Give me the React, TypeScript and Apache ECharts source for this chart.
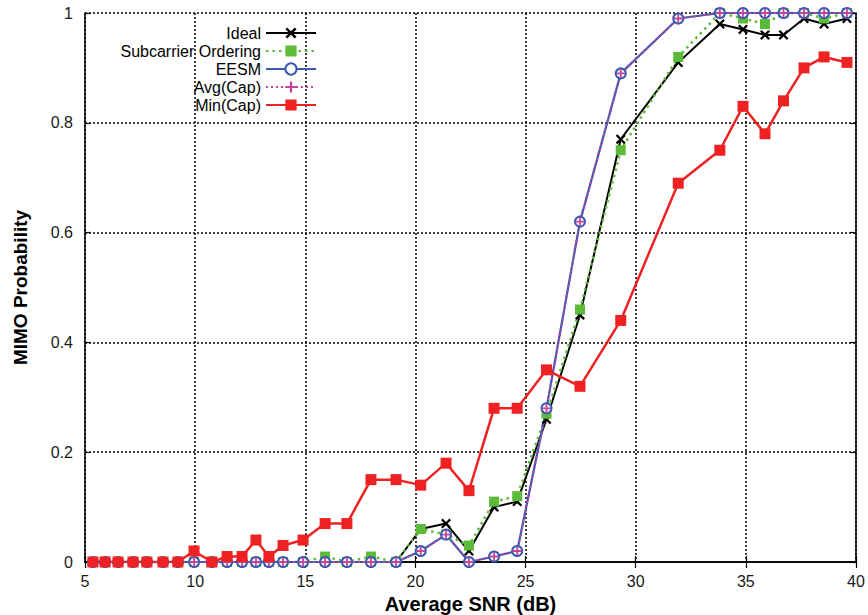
import React, { useEffect, useRef } from "react";
import * as echarts from "echarts";

const snr = [5.36, 5.91, 6.5, 7.18, 7.81, 8.54, 9.22, 9.95, 10.76, 11.45, 12.13, 12.76, 13.35, 13.99, 14.9, 15.9, 16.89, 17.98, 19.12, 20.24, 21.39, 22.43, 23.57, 24.62, 25.95, 27.47, 29.32, 31.93, 33.82, 34.87, 35.87, 36.71, 37.64, 38.55, 39.59];
const ideal = [0, 0, 0, 0, 0, 0, 0, 0, 0, 0, 0, 0, 0, 0, 0, 0, 0, 0, 0, 0.06, 0.07, 0.02, 0.1, 0.11, 0.26, 0.45, 0.77, 0.91, 0.98, 0.97, 0.96, 0.96, 0.99, 0.98, 0.99];
const subcarrier = [0, 0, 0, 0, 0, 0, 0, 0, 0, 0, 0, 0, 0, 0, 0, 0.01, 0, 0.01, 0, 0.06, 0.05, 0.03, 0.11, 0.12, 0.27, 0.46, 0.75, 0.92, 1.0, 0.99, 0.98, 1.0, 1.0, 0.99, 1.0];
const eesm = [0, 0, 0, 0, 0, 0, 0, 0, 0, 0, 0, 0, 0, 0, 0, 0, 0, 0, 0, 0.02, 0.05, 0, 0.01, 0.02, 0.28, 0.62, 0.89, 0.99, 1, 1, 1, 1, 1, 1, 1];
const avgCap = [0, 0, 0, 0, 0, 0, 0, 0, 0, 0, 0, 0, 0, 0, 0, 0, 0, 0, 0, 0.02, 0.05, 0, 0.01, 0.02, 0.28, 0.62, 0.89, 0.99, 1, 1, 1, 1, 1, 1, 1];
const minCap = [0, 0, 0, 0, 0, 0, 0, 0.02, 0, 0.01, 0.01, 0.04, 0.01, 0.03, 0.04, 0.07, 0.07, 0.15, 0.15, 0.14, 0.18, 0.13, 0.28, 0.28, 0.35, 0.32, 0.44, 0.69, 0.75, 0.83, 0.78, 0.84, 0.9, 0.92, 0.91];
const seriesNames = ["Ideal", "Subcarrier Ordering", "EESM", "Avg(Cap)", "Min(Cap)"];

const FONT = "Liberation Sans, Arial, Helvetica, sans-serif";
const CROSS = "path://M0,1.6 L1.6,0 L5,3.4 L8.4,0 L10,1.6 L6.6,5 L10,8.4 L8.4,10 L5,6.6 L1.6,10 L0,8.4 L3.4,5 Z";
const PLUS = "path://M4,0 H6 V4 H10 V6 H6 V10 H4 V6 H0 V4 H4 Z";

const pairs = (ys: number[]) => snr.map((x, i) => [x, ys[i]]);

export default function App() {
  const ref = useRef<HTMLDivElement>(null);
  useEffect(() => {
    if (!ref.current) return;
    const chart = echarts.init(ref.current, undefined, { renderer: "svg" });
    const axisLine = { show: true, lineStyle: { color: "#000", width: 1.5 } };
    const tick = { show: true, inside: true, length: 6, lineStyle: { color: "#000", width: 1.2 } };
    const split = { show: true, lineStyle: { color: "#000", width: 1.5, type: [2, 2] as any } };
    chart.setOption({
      animation: false,
      backgroundColor: "#fff",
      textStyle: { fontFamily: FONT },
      grid: { left: 85, right: 12, top: 13, bottom: 53, show: false, outerBoundsMode: "none", containLabel: false },
      legend: {
        orient: "vertical",
        align: "right",
        right: 551,
        top: 25,
        padding: 0,
        itemWidth: 50,
        itemHeight: 14,
        itemGap: 2,
        data: seriesNames,
        textStyle: { fontFamily: FONT, fontSize: 16, color: "#000" },
      },
      xAxis: [
        {
          type: "value",
          min: 5,
          max: 40,
          interval: 5,
          position: "bottom",
          name: "Average SNR (dB)",
          nameLocation: "middle",
          nameGap: 32,
          nameTextStyle: { fontFamily: FONT, fontSize: 20, fontWeight: "bold", color: "#000" },
          axisLine,
          axisTick: tick,
          axisLabel: { fontFamily: FONT, fontSize: 16, color: "#1a1a1a", margin: 11 },
          splitLine: split,
        },
        {
          type: "value",
          min: 5,
          max: 40,
          interval: 5,
          position: "top",
          axisLine,
          axisTick: tick,
          axisLabel: { show: false },
          splitLine: { show: false },
        },
      ],
      yAxis: [
        {
          type: "value",
          min: 0,
          max: 1,
          interval: 0.2,
          position: "left",
          name: "MIMO Probability",
          nameLocation: "middle",
          nameGap: 55,
          nameTextStyle: { fontFamily: FONT, fontSize: 19, fontWeight: "bold", color: "#000" },
          axisLine,
          axisTick: tick,
          axisLabel: { fontFamily: FONT, fontSize: 16, color: "#1a1a1a", margin: 12 },
          splitLine: split,
        },
        {
          type: "value",
          min: 0,
          max: 1,
          interval: 0.2,
          position: "right",
          axisLine,
          axisTick: tick,
          axisLabel: { show: false },
          splitLine: { show: false },
        },
      ],
      series: [
        {
          name: "Ideal",
          type: "line",
          data: pairs(ideal),
          symbol: CROSS,
          symbolSize: 10,
          lineStyle: { color: "#000", width: 2 },
          itemStyle: { color: "#000" },
        },
        {
          name: "Subcarrier Ordering",
          type: "line",
          data: pairs(subcarrier),
          symbol: "rect",
          symbolSize: 10,
          lineStyle: { color: "#5dbb3a", width: 2.5, type: [2.5, 4] as any },
          itemStyle: { color: "#5dbb3a" },
        },
        {
          name: "EESM",
          type: "line",
          data: pairs(eesm),
          symbol: "emptyCircle",
          symbolSize: 10,
          lineStyle: { color: "#3a59b0", width: 2.2 },
          itemStyle: { color: "#3a59b0", borderWidth: 1.5 },
        },
        {
          name: "Avg(Cap)",
          type: "line",
          data: pairs(avgCap),
          symbol: PLUS,
          symbolSize: 9,
          lineStyle: { color: "#c2459e", width: 2, type: [2, 3] as any },
          itemStyle: { color: "#c2459e" },
        },
        {
          name: "Min(Cap)",
          type: "line",
          data: pairs(minCap),
          symbol: "rect",
          symbolSize: 11,
          lineStyle: { color: "#ee2222", width: 2.5 },
          itemStyle: { color: "#ee2222" },
        },
      ],
    });
    return () => chart.dispose();
  }, []);
  return (
    <div
      ref={ref}
      style={{ position: "absolute", left: 0, top: 0, width: 868, height: 615, background: "#fff" }}
    />
  );
}
